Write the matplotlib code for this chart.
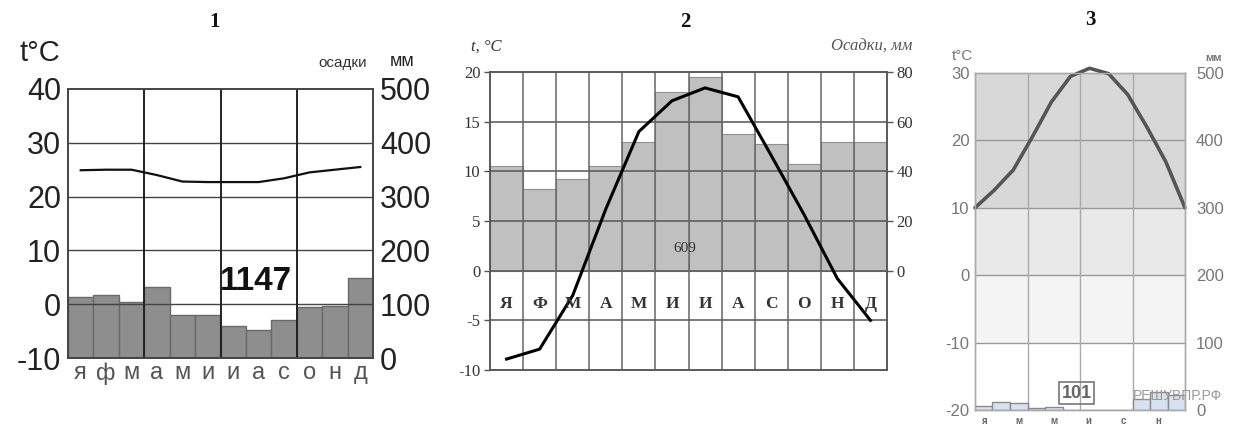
import numpy as np
import matplotlib
matplotlib.use('Agg')
import matplotlib.pyplot as plt

plt.rcParams['axes.unicode_minus'] = False

# chart 1
months1 = ['я', 'ф', 'м', 'а', 'м', 'и', 'и', 'а', 'с', 'о', 'н', 'д']
temp1 = [24.9, 25.0, 25.0, 24.0, 22.8, 22.7, 22.7, 22.7, 23.4, 24.5, 25.0, 25.5]
prec1 = [113, 117, 104, 132, 80, 80, 59, 52, 71, 95, 97, 149]
total1 = '1147'

# chart 2
months2 = ['Я', 'Ф', 'М', 'А', 'М', 'И', 'И', 'А', 'С', 'О', 'Н', 'Д']
temp2 = [-8.9, -7.9, -2.5, 6.2, 14.0, 17.1, 18.4, 17.5, 11.6, 5.6, -0.8, -5.0]
prec2 = [42, 33, 37, 42, 52, 72, 78, 55, 51, 43, 52, 52]
total2 = '609'

# chart 3
months3 = ['я', '', 'м', '', 'м', '', 'и', '', 'с', '', 'н', '']
temp3 = [10.0, 12.6, 15.6, 20.5, 25.7, 29.5, 30.7, 29.9, 26.8, 22.0, 16.8, 10.0]
prec3 = [6, 12, 10, 3, 5, 0, 0, 0, 0, 16, 27, 22]
total3 = '101'

W, H = 1241, 434
fig = plt.figure(figsize=(W / 100, H / 100), dpi=100)


def box(x0, y0, x1, y1):
    return [x0 / W, 1 - y1 / H, (x1 - x0) / W, (y1 - y0) / H]


x = np.arange(12)

# ---------- chart 1 ----------
sans = 'Liberation Sans'
ax1b = fig.add_axes(box(68, 89, 373, 358))
ax1 = ax1b.twinx()
ax1b.bar(x, prec1, width=1.0, color='#8e8e8e', edgecolor='#6a6a6a', linewidth=1)
ax1b.set_ylim(0, 500)
ax1b.set_yticks(range(0, 501, 100))
ax1b.yaxis.tick_right()
ax1b.tick_params(axis='y', length=0, labelsize=22, labelcolor='#222', pad=5)
for t in ax1b.get_yticklabels():
    t.set_family(sans)
ax1b.set_xlim(-0.5, 11.5)
ax1b.set_xticks(x)
ax1b.set_xticklabels(months1, fontsize=17, color='#555', family=sans)
ax1b.tick_params(axis='x', length=0, pad=3)

ax1.yaxis.tick_left()
ax1.set_zorder(ax1b.get_zorder() + 1)
ax1.patch.set_visible(False)
ax1.set_ylim(-10, 40)
ax1.set_yticks(range(-10, 41, 10))
ax1.tick_params(axis='y', length=0, labelsize=22, labelcolor='#222', pad=5)
for t in ax1.get_yticklabels():
    t.set_family(sans)
for v in range(0, 40, 10):
    ax1.axhline(v, color='#444', lw=1)
for v in [2.5, 5.5, 8.5]:
    ax1.axvline(v, color='#222', lw=1.4)
ax1.plot(x, temp1, color='#111', lw=1.6)
ax1.text(6.9, 4.3, total1, ha='center', va='center', fontsize=24,
         fontweight='bold', family=sans, color='#111')
for a in (ax1, ax1b):
    for s in a.spines.values():
        s.set_color('#444')
        s.set_linewidth(1.2)
fig.text(40 / W, 1 - 53 / H, 't°C', ha='center', va='center', fontsize=21,
         family=sans, color='#222')
fig.text(343 / W, 1 - 63 / H, 'осадки', ha='center', va='center', fontsize=11,
         family=sans, color='#333')
fig.text(402 / W, 1 - 62 / H, 'мм', ha='center', va='center', fontsize=13,
         family=sans, color='#222')

# ---------- chart 2 ----------
serif = 'Liberation Serif'
ax2b = fig.add_axes(box(490, 72, 887, 370))
ax2 = ax2b.twinx()
ax2b.bar(x, prec2, width=1.0, color='#c0c0c0', edgecolor='#909090', linewidth=0.8)
ax2b.set_ylim(-40, 80)
ax2b.set_yticks(range(0, 81, 20))
ax2b.yaxis.tick_right()
ax2b.tick_params(axis='y', length=4, width=1, color='#555', labelsize=12,
                 labelcolor='#333', pad=3)
for t in ax2b.get_yticklabels():
    t.set_family(serif)
ax2b.set_xlim(-0.5, 11.5)
ax2b.set_xticks([])

ax2.yaxis.tick_left()
ax2.set_zorder(ax2b.get_zorder() + 1)
ax2.patch.set_visible(False)
ax2.set_ylim(-10, 20)
ax2.set_yticks(range(-10, 21, 5))
ax2.tick_params(axis='y', length=4, width=1, color='#555', labelsize=12,
                labelcolor='#333', pad=3)
for t in ax2.get_yticklabels():
    t.set_family(serif)
for v in range(-5, 20, 5):
    ax2.axhline(v, color='#555', lw=1.1)
for v in np.arange(0.5, 11, 1.0):
    ax2.axvline(v, color='#666', lw=1.1)
ax2.plot(x, temp2, color='#000', lw=2.2)
for i, m in enumerate(months2):
    ax2.text(i, -3.4, m, ha='center', va='center', fontsize=12.5,
             fontweight='bold', family=serif, color='#333')
ax2.text(5.4, 2.2, total2, ha='center', va='center', fontsize=11,
         family=serif, color='#333')
for a in (ax2, ax2b):
    for s in a.spines.values():
        s.set_color('#555')
        s.set_linewidth(1.1)
fig.text(486 / W, 1 - 47 / H, 't, °C', ha='center', va='center', fontsize=12,
         style='italic', family=serif, color='#333')
fig.text(872 / W, 1 - 47 / H, 'Осадки, мм', ha='center', va='center',
         fontsize=12, style='italic', family=serif, color='#555')

# ---------- chart 3 ----------
ax3 = fig.add_axes(box(975, 73, 1185, 410))
ax3b = ax3.twinx()
ax3.set_ylim(-20, 30)
ax3.set_xlim(-0.5, 11.5)
ax3.axhspan(10, 30, color='#d8d8d8', lw=0, zorder=0)
ax3.axhspan(0, 10, color='#e9e9e9', lw=0, zorder=0)
ax3.axhspan(-10, 0, color='#f4f4f4', lw=0, zorder=0)
for v in range(-10, 30, 10):
    ax3.axhline(v, color='#999', lw=1, zorder=1)
for v in [2.5, 5.5, 8.5]:
    ax3.axvline(v, color='#aaa', lw=1, zorder=1)
curve_x = np.linspace(-0.5, 11.5, len(temp3))
ax3.plot(curve_x, temp3, color='#555', lw=2.6, zorder=3, clip_on=False,
         solid_capstyle='round', solid_joinstyle='round')
ax3.set_yticks(range(-20, 31, 10))
ax3.tick_params(axis='y', length=0, labelsize=12, labelcolor='#777', pad=4)
for t in ax3.get_yticklabels():
    t.set_family(sans)
ax3.set_xticks(x)
ax3.set_xticklabels(months3, fontsize=7, color='#666', family=sans,
                    fontweight='bold')
ax3.tick_params(axis='x', length=0, pad=4)

ax3b.bar(x, prec3, width=1.0, color='#d6e2f0', edgecolor='#8a8a8a', linewidth=1)
ax3b.set_ylim(0, 500)
ax3b.set_yticks(range(0, 501, 100))
ax3b.tick_params(axis='y', length=0, labelsize=12, labelcolor='#777', pad=8)
for t in ax3b.get_yticklabels():
    t.set_family(sans)
ax3b.text(5.3, 25, total3, ha='center', va='center', fontsize=13,
          fontweight='bold', family=sans, color='#666',
          bbox=dict(boxstyle='square,pad=0.15', fc='none', ec='#777', lw=1.2))
for a in (ax3, ax3b):
    for s in a.spines.values():
        s.set_color('#aaa')
        s.set_linewidth(1)
fig.text(962 / W, 1 - 56 / H, 't°C', ha='center', va='center', fontsize=11,
         family=sans, color='#777')
fig.text(1213 / W, 1 - 58 / H, 'мм', ha='center', va='center', fontsize=8,
         family=sans, color='#777', fontweight='bold')
fig.text(1178 / W, 1 - 396 / H, 'РЕШУВПР.РФ', ha='center', va='center',
         fontsize=10, family=sans, color='#999')

# titles
for tx, ty, s in [(215, 22, '1'), (685, 22, '2'), (1090, 20, '3')]:
    fig.text(tx / W, 1 - ty / H, s, ha='center', va='center', fontsize=15,
             fontweight='bold', family=serif, color='#111')

fig.savefig('out.png', dpi=100)
